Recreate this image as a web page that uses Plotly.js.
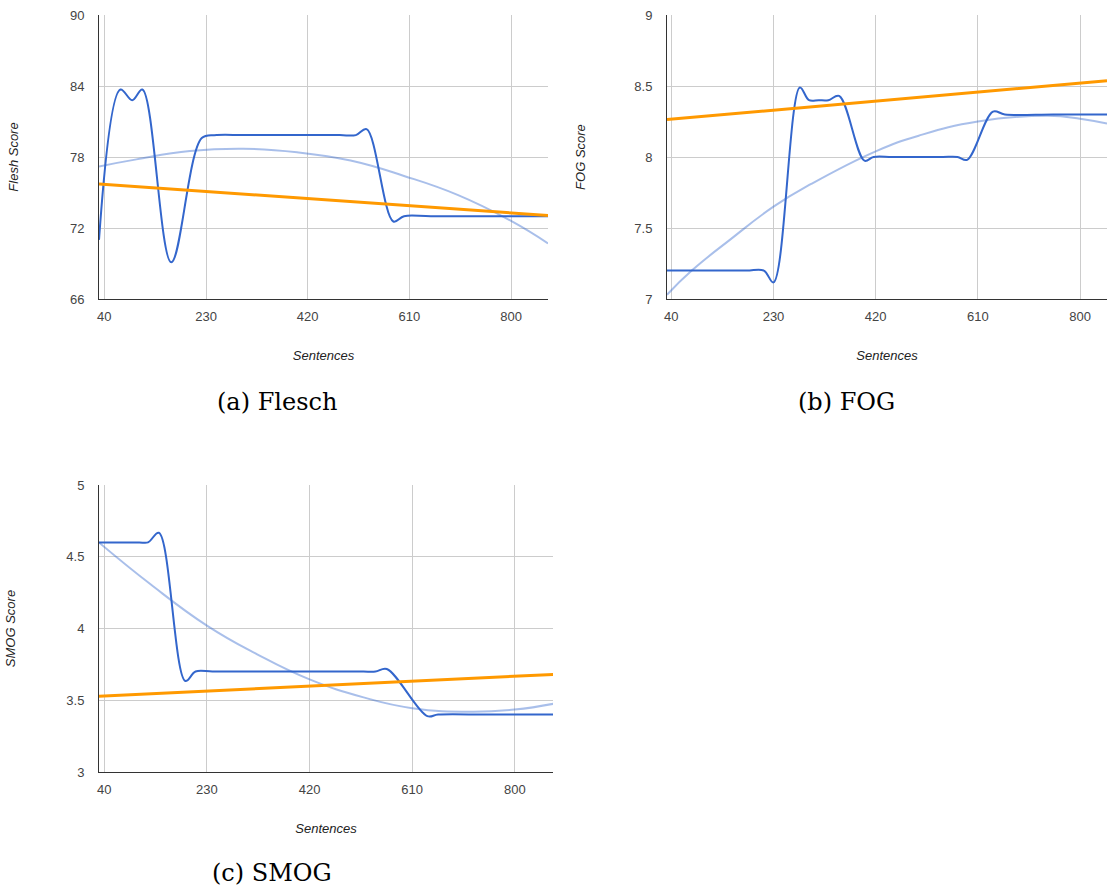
<!DOCTYPE html>
<html>
<head>
<meta charset="utf-8">
<script src="https://cdn.plot.ly/plotly-3.0.1.min.js"></script>
<style>html,body{margin:0;padding:0;background:#fff;}#chart{width:1107px;height:888px;}</style>
</head>
<body>
<div id="chart"></div>
<script>
// ---- Data ----
const xTicks = [40, 230, 420, 610, 800];

// (a) Flesch
const fleschX = [30, 70, 92, 111, 165, 222, 250, 300, 400, 480, 510, 530, 580, 600, 650, 869];
const fleschY = [71.0, 83.7, 82.8, 83.7, 69.1, 79.6, 79.85, 79.85, 79.85, 79.85, 79.85, 80.35, 72.55, 73.0, 73.0, 73.0];
const fleschPolyX = [30, 100, 200, 300, 400, 500, 600, 700, 800, 869];
const fleschPolyY = [77.2, 77.8, 78.5, 78.7, 78.4, 77.7, 76.4, 74.8, 72.6, 70.7];
const fleschLinX = [30, 869];
const fleschLinY = [75.72, 73.06];

// (b) FOG
const fogX = [32, 100, 180, 212, 230, 279, 296, 314, 332, 352, 399, 416, 450, 500, 545, 572, 590, 638, 660, 750, 850];
const fogY = [7.2, 7.2, 7.2, 7.2, 7.117, 8.49, 8.40, 8.40, 8.40, 8.43, 7.974, 8.0, 8.0, 8.0, 8.0, 8.0, 7.98, 8.32, 8.30, 8.30, 8.30];
const fogPolyX = [32, 78, 150, 230, 300, 420, 500, 610, 740, 800, 850];
const fogPolyY = [7.03, 7.2, 7.42, 7.65, 7.81, 8.04, 8.15, 8.25, 8.29, 8.27, 8.235];
const fogLinX = [32, 850];
const fogLinY = [8.264, 8.537];

// (c) SMOG
const smogX = [30, 80, 105, 121, 141, 190, 209, 240, 300, 400, 480, 520, 542, 563, 638, 658, 750, 871];
const smogY = [4.6, 4.6, 4.6, 4.6, 4.667, 3.634, 3.70, 3.70, 3.70, 3.70, 3.70, 3.70, 3.70, 3.718, 3.389, 3.40, 3.40, 3.40];
const smogPolyX = [30, 125, 230, 323, 420, 520, 610, 720, 800, 871];
const smogPolyY = [4.6, 4.31, 4.02, 3.82, 3.645, 3.52, 3.445, 3.42, 3.435, 3.475];
const smogLinX = [30, 871];
const smogLinY = [3.528, 3.68];

const captions = ['(a) Flesch', '(b) FOG', '(c) SMOG'];
const yTitles = ['Flesh Score', 'FOG Score', 'SMOG Score'];
const xTitle = 'Sentences';

// ---- Styles ----
const W = 1107, H = 888;
const BLUE = '#3366cc', LIGHT = 'rgba(51,102,204,0.42)', ORANGE = '#ff9900';
const px = v => v / W, py = v => 1 - v / H;

function series(x, y, polyX, polyY, linX, linY, xa, ya) {
  return [
    {x: x, y: y, xaxis: xa, yaxis: ya, mode: 'lines', line: {color: BLUE, width: 2, shape: 'spline', smoothing: 1}, hoverinfo: 'skip'},
    {x: polyX, y: polyY, xaxis: xa, yaxis: ya, mode: 'lines', line: {color: LIGHT, width: 2, shape: 'spline', smoothing: 1.3}, hoverinfo: 'skip'},
    {x: linX, y: linY, xaxis: xa, yaxis: ya, mode: 'lines', line: {color: ORANGE, width: 3}, hoverinfo: 'skip'}
  ];
}

const data = [].concat(
  series(fleschX, fleschY, fleschPolyX, fleschPolyY, fleschLinX, fleschLinY, 'x', 'y'),
  series(fogX, fogY, fogPolyX, fogPolyY, fogLinX, fogLinY, 'x2', 'y2'),
  series(smogX, smogY, smogPolyX, smogPolyY, smogLinX, smogLinY, 'x3', 'y3')
);

const tickFont = {family: 'Liberation Sans, Arial, sans-serif', size: 13, color: '#444'};
const titleFont = {family: 'Liberation Sans, Arial, sans-serif', size: 13, color: '#222'};

function xAxis(domain, range, anchor) {
  return {
    domain: domain, range: range, anchor: anchor, tickvals: xTicks, ticktext: xTicks.map(String),
    showgrid: true, gridcolor: '#cccccc', gridwidth: 1, zeroline: false,
    showline: true, linecolor: '#333333', linewidth: 1, ticks: '', tickfont: tickFont,
    ticklabelstandoff: 5, automargin: false,
    title: {text: '<i>' + xTitle + '</i>', font: titleFont, standoff: 28}
  };
}
function yAxis(domain, range, dtick, anchor, title, standoff) {
  return {
    domain: domain, range: range, anchor: anchor, dtick: dtick, tick0: range[0],
    showgrid: true, gridcolor: '#cccccc', gridwidth: 1, zeroline: false,
    showline: true, linecolor: '#333333', linewidth: 1, ticks: '', tickfont: tickFont,
    ticklabelstandoff: 11, automargin: false,
    title: {text: '<i>' + title + '</i>', font: titleFont, standoff: standoff}
  };
}

const capFont = {family: 'DejaVu Serif, serif', size: 24, color: '#000'};

const layout = {
  width: W, height: H,
  margin: {l: 0, r: 0, t: 0, b: 0},
  paper_bgcolor: '#fff', plot_bgcolor: '#fff',
  showlegend: false,
  xaxis: xAxis([px(99), px(548)], [30, 869], 'y'),
  yaxis: yAxis([py(299), py(15)], [66, 90], 6, 'x', yTitles[0], 48),
  xaxis2: xAxis([px(667), 1], [32, 850], 'y2'),
  yaxis2: yAxis([py(299), py(15)], [7, 9], 0.5, 'x2', yTitles[1], 45),
  xaxis3: xAxis([px(99), px(553)], [30.2, 870.7], 'y3'),
  yaxis3: yAxis([py(772), py(485)], [3, 5], 0.5, 'x3', yTitles[2], 47),
  annotations: [
    {text: captions[0], xref: 'paper', yref: 'paper', x: px(277), y: py(402), showarrow: false, font: capFont, xanchor: 'center', yanchor: 'middle'},
    {text: captions[1], xref: 'paper', yref: 'paper', x: px(846), y: py(402), showarrow: false, font: capFont, xanchor: 'center', yanchor: 'middle'},
    {text: captions[2], xref: 'paper', yref: 'paper', x: px(272), y: py(873), showarrow: false, font: capFont, xanchor: 'center', yanchor: 'middle'}
  ]
};

Plotly.newPlot('chart', data, layout, {staticPlot: true, displayModeBar: false});
</script>
</body>
</html>
